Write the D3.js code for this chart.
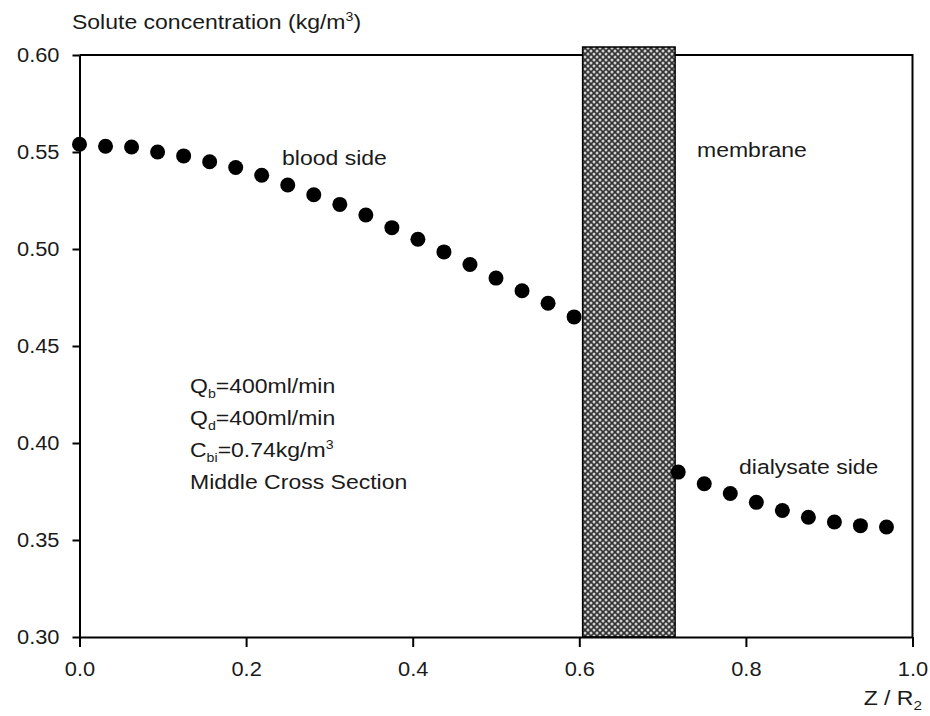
<!DOCTYPE html>
<html>
<head>
<meta charset="utf-8">
<script src="https://cdn.jsdelivr.net/npm/d3@7"></script>
<style>
  body { margin: 0; background: #fff; }
  svg { display: block; font-family: "Liberation Sans", Arial, sans-serif; }
</style>
</head>
<body>
<svg id="chart" width="930" height="716"></svg>
<script>
// Blood side points (Z / R2, concentration)
const bloodZ = [0, 0.03125, 0.0625, 0.09375, 0.125, 0.15625, 0.1875, 0.21875, 0.25, 0.28125,
	0.3125, 0.34375, 0.375, 0.40625, 0.4375, 0.46875, 0.5, 0.53125, 0.5625, 0.59375];
const bloodC = [0.554, 0.553, 0.5526, 0.550, 0.548, 0.545, 0.542, 0.538, 0.533, 0.528,
	0.523, 0.5175, 0.511, 0.505, 0.4985, 0.492, 0.485, 0.4785, 0.472, 0.465];

// Dialysate side points
const dialZ = [0.71875, 0.75, 0.78125, 0.8125, 0.84375, 0.875, 0.90625, 0.9375, 0.96875];
const dialC = [0.385, 0.379, 0.374, 0.3694, 0.3652, 0.3617, 0.3593, 0.3574, 0.3567];

// Membrane extent along Z / R2
const membrane = [0.604, 0.715];

const xTicks = [0, 0.2, 0.4, 0.6, 0.8, 1.0];
const yTicks = [0.30, 0.35, 0.40, 0.45, 0.50, 0.55, 0.60];

const svg = d3.select("#chart");
const plotL = 79.5, plotR = 912.5, plotT = 55, plotB = 637;

const x = d3.scaleLinear().domain([0, 1]).range([plotL, plotR]);
const y = d3.scaleLinear().domain([0.30, 0.60]).range([plotB, plotT]);

// Cross-hatch pattern for the membrane
const defs = svg.append("defs");
const pat = defs.append("pattern")
	.attr("id", "hatch")
	.attr("patternUnits", "userSpaceOnUse")
	.attr("width", 6).attr("height", 6);
pat.append("rect").attr("width", 6).attr("height", 6).attr("fill", "#333");
for (const [cx, cy] of [[0, 0], [6, 0], [0, 6], [6, 6], [3, 3]]) {
	pat.append("circle").attr("cx", cx).attr("cy", cy).attr("r", 1.5).attr("fill", "#d0d0d0");
}

// Frame (top and right)
svg.append("path")
	.attr("d", `M${plotL},${plotT}H${plotR}V${plotB}`)
	.attr("fill", "none").attr("stroke", "#000").attr("stroke-width", 2);

// Membrane band, slightly taller than the plot
svg.append("rect")
	.attr("x", x(membrane[0]))
	.attr("y", plotT - 8)
	.attr("width", x(membrane[1]) - x(membrane[0]))
	.attr("height", plotB - plotT + 8)
	.attr("fill", "url(#hatch)")
	.attr("stroke", "#000").attr("stroke-width", 1.5);

// Axes
const tickStretch = 1.12;
const xAxis = svg.append("g")
	.attr("transform", `translate(0,${plotB})`)
	.call(d3.axisBottom(x).tickValues(xTicks).tickFormat(d3.format(".1f")).tickSize(10).tickSizeOuter(0));
const yAxis = svg.append("g")
	.attr("transform", `translate(${plotL},0)`)
	.call(d3.axisLeft(y).tickValues(yTicks).tickFormat(d3.format(".2f")).tickSize(7).tickSizeOuter(0));

for (const ax of [xAxis, yAxis]) {
	ax.select(".domain").attr("stroke-width", 2);
	ax.selectAll(".tick line").attr("stroke-width", 2);
	ax.selectAll("text").attr("font-size", 19.5).attr("font-family", "Liberation Sans, Arial, sans-serif").attr("fill", "#1a1a1a");
}
xAxis.selectAll("text")
	.attr("y", 0).attr("dy", 0)
	.attr("transform", `translate(0,39) scale(${tickStretch},1)`);
yAxis.selectAll("text")
	.attr("x", 0)
	.attr("transform", `translate(-20,0) scale(${tickStretch},1)`);

// Data points
const dots = bloodZ.map((z, i) => [z, bloodC[i]]).concat(dialZ.map((z, i) => [z, dialC[i]]));
svg.append("g").selectAll("circle")
	.data(dots)
	.join("circle")
	.attr("cx", d => x(d[0]))
	.attr("cy", d => y(d[1]))
	.attr("r", 7.5)
	.attr("fill", "#000");

// Text labels (slightly stretched horizontally like the original)
const stretch = 1.18;
const txt = (tx, ty, s, anchor) => svg.append("text")
	.attr("transform", `translate(${tx},${ty}) scale(${stretch},1)`)
	.attr("font-size", 19.5).attr("fill", "#1a1a1a")
	.attr("text-anchor", anchor || "start")
	.text(s);

const yl = txt(72, 29, "Solute concentration (kg/m");
yl.append("tspan").attr("font-size", 12).attr("dy", -8).text("3");
yl.append("tspan").attr("dy", 8).text(")");

txt(282, 165, "blood side");
txt(697, 157, "membrane");
txt(739, 474, "dialysate side");

const sub = (t, s) => {
	t.append("tspan").attr("font-size", 12).attr("dy", 5).text(s);
};
const q1 = txt(190, 393, "Q");
sub(q1, "b");
q1.append("tspan").attr("dy", -5).text("=400ml/min");
const q2 = txt(190, 425, "Q");
sub(q2, "d");
q2.append("tspan").attr("dy", -5).text("=400ml/min");
const c1 = txt(190, 457, "C");
sub(c1, "bi");
c1.append("tspan").attr("dy", -5).text("=0.74kg/m");
c1.append("tspan").attr("font-size", 12).attr("dy", -8).text("3");
txt(190, 489, "Middle Cross Section");

const zl = txt(922, 705, "Z / R", "end");
zl.append("tspan").attr("font-size", 13).attr("dy", 5).text("2");
</script>
</body>
</html>
